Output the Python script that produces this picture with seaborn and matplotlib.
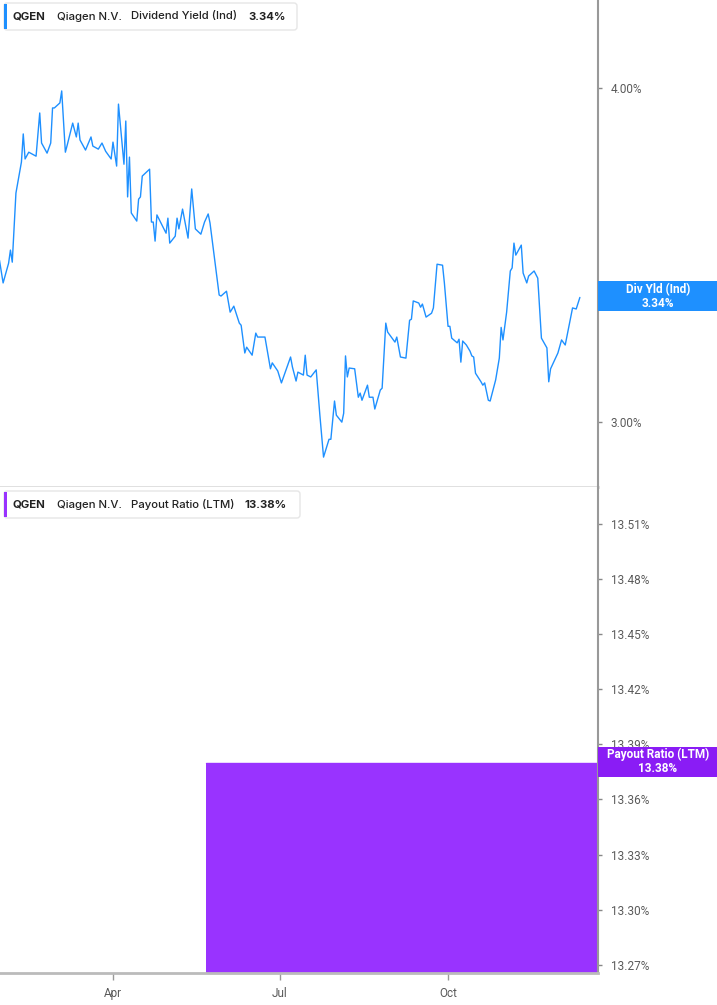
import pandas as pd
import matplotlib
matplotlib.use("Agg")
import matplotlib.pyplot as plt
import matplotlib.dates as mdates
import matplotlib.ticker as mticker
from matplotlib.patches import Rectangle, FancyBboxPatch
from matplotlib.transforms import IdentityTransform
import seaborn as sns

# dividend yield (Ind), %
dates = [
    "2025-01-29", "2025-01-31", "2025-02-03", "2025-02-04", "2025-02-05", "2025-02-07",
    "2025-02-10", "2025-02-11", "2025-02-12", "2025-02-14", "2025-02-18", "2025-02-20",
    "2025-02-21", "2025-02-24", "2025-02-26", "2025-02-27", "2025-02-28", "2025-03-03",
    "2025-03-04", "2025-03-06", "2025-03-07", "2025-03-10", "2025-03-12", "2025-03-13",
    "2025-03-14", "2025-03-17", "2025-03-20", "2025-03-21", "2025-03-24", "2025-03-26",
    "2025-03-28", "2025-03-31", "2025-04-01", "2025-04-03", "2025-04-04", "2025-04-07",
    "2025-04-08", "2025-04-09", "2025-04-10", "2025-04-11", "2025-04-14", "2025-04-15",
    "2025-04-16", "2025-04-17", "2025-04-21", "2025-04-22", "2025-04-23", "2025-04-24",
    "2025-04-25", "2025-04-30", "2025-05-01", "2025-05-02", "2025-05-05", "2025-05-06",
    "2025-05-07", "2025-05-09", "2025-05-12", "2025-05-14", "2025-05-16", "2025-05-19",
    "2025-05-21", "2025-05-23", "2025-05-24", "2025-05-29", "2025-05-30", "2025-06-02",
    "2025-06-04", "2025-06-06", "2025-06-09", "2025-06-10", "2025-06-12", "2025-06-13",
    "2025-06-16", "2025-06-18", "2025-06-19", "2025-06-23", "2025-06-26", "2025-06-27",
    "2025-06-30", "2025-07-02", "2025-07-07", "2025-07-08", "2025-07-10", "2025-07-11",
    "2025-07-14", "2025-07-15", "2025-07-16", "2025-07-18", "2025-07-21", "2025-07-23",
    "2025-07-25", "2025-07-28", "2025-07-29", "2025-07-31", "2025-08-01", "2025-08-04",
    "2025-08-05", "2025-08-06", "2025-08-07", "2025-08-08", "2025-08-11", "2025-08-13",
    "2025-08-14", "2025-08-15", "2025-08-18", "2025-08-19", "2025-08-21", "2025-08-22",
    "2025-08-25", "2025-08-26", "2025-08-28", "2025-08-29", "2025-09-02", "2025-09-03",
    "2025-09-05", "2025-09-08", "2025-09-10", "2025-09-11", "2025-09-12", "2025-09-15",
    "2025-09-16", "2025-09-17", "2025-09-19", "2025-09-22", "2025-09-23", "2025-09-25",
    "2025-09-28", "2025-09-29", "2025-10-01", "2025-10-02", "2025-10-03", "2025-10-06",
    "2025-10-07", "2025-10-08", "2025-10-09", "2025-10-11", "2025-10-13", "2025-10-14",
    "2025-10-15", "2025-10-16", "2025-10-19", "2025-10-20", "2025-10-21", "2025-10-23",
    "2025-10-24", "2025-10-27", "2025-10-29", "2025-10-30", "2025-10-31", "2025-11-02",
    "2025-11-04", "2025-11-05", "2025-11-06", "2025-11-07", "2025-11-10", "2025-11-11",
    "2025-11-13", "2025-11-14", "2025-11-17", "2025-11-19", "2025-11-21", "2025-11-24",
    "2025-11-25", "2025-11-26", "2025-11-30", "2025-12-02", "2025-12-04", "2025-12-08",
    "2025-12-10", "2025-12-12",
]
div_yield = [
    3.449, 3.382, 3.440, 3.479, 3.443, 3.654,
    3.753, 3.845, 3.763, 3.785, 3.772, 3.915,
    3.815, 3.782, 3.815, 3.932, 3.932, 3.949,
    3.990, 3.785, 3.808, 3.881, 3.835, 3.881,
    3.825, 3.792, 3.835, 3.805, 3.795, 3.815,
    3.788, 3.763, 3.818, 3.740, 3.945, 3.746,
    3.888, 3.642, 3.769, 3.592, 3.567, 3.635,
    3.642, 3.708, 3.730, 3.564, 3.564, 3.506,
    3.586, 3.530, 3.576, 3.500, 3.521, 3.576,
    3.543, 3.604, 3.515, 3.667, 3.543, 3.527,
    3.564, 3.589, 3.561, 3.347, 3.344, 3.358,
    3.298, 3.315, 3.267, 3.261, 3.184, 3.200,
    3.178, 3.239, 3.228, 3.228, 3.141, 3.157,
    3.135, 3.103, 3.173, 3.146, 3.108, 3.132,
    3.124, 3.178, 3.124, 3.119, 3.138, 3.018,
    2.911, 2.956, 2.956, 3.055, 3.018, 3.000,
    3.023, 3.176, 3.119, 3.143, 3.141, 3.065,
    3.076, 3.057, 3.097, 3.065, 3.065, 3.034,
    3.084, 3.089, 3.267, 3.242, 3.214, 3.228,
    3.173, 3.170, 3.275, 3.278, 3.330, 3.324,
    3.312, 3.321, 3.284, 3.295, 3.310, 3.437,
    3.434, 3.382, 3.258, 3.258, 3.225, 3.212,
    3.222, 3.159, 3.217, 3.206, 3.189, 3.176,
    3.173, 3.129, 3.106, 3.097, 3.103, 3.057,
    3.055, 3.111, 3.170, 3.255, 3.220, 3.298,
    3.417, 3.426, 3.500, 3.464, 3.494, 3.411,
    3.382, 3.402, 3.417, 3.396, 3.225, 3.198,
    3.106, 3.141, 3.184, 3.220, 3.206, 3.310,
    3.307, 3.340,
]

# payout ratio (LTM), %
payout_dates = ["2025-05-22", "2025-12-22"]
payout_ratio = [13.38, 13.38]

yield_ticks = [3.0, 4.0]
payout_ticks = [13.27, 13.30, 13.33, 13.36, 13.39, 13.42, 13.45, 13.48, 13.51]
month_ticks = ["2025-04-01", "2025-07-01", "2025-10-01"]
month_labels = ["Apr", "Jul", "Oct"]

BLUE = "#1E90FF"
PURPLE = "#9933FF"
PURPLE_TAG = "#8A1CF5"
W, H = 717, 1005


def style_axis(ax, ticks, fmt):
    ax.set_yticks(ticks)
    ax.yaxis.set_minor_locator(mticker.NullLocator())
    ax.yaxis.set_major_formatter(mticker.FuncFormatter(lambda v, p: fmt.format(v)))
    ax.yaxis.tick_right()
    ax.tick_params(axis="y", which="both", right=True, left=False, labelright=True,
                   labelleft=False, length=3, width=1, color="#888888",
                   labelcolor="#5a5a5a", labelsize=8.5, pad=6)
    for s in ["top", "left"]:
        ax.spines[s].set_visible(False)
    ax.spines["right"].set_color("#999999")
    ax.spines["right"].set_linewidth(1.5)
    ax.grid(False)


def header(fig, ytop, color, metric, value, value_x, width):
    # little legend box in the top left corner of each panel
    box = FancyBboxPatch((4, H - ytop - 27), width, 27, boxstyle="round,pad=0,rounding_size=3",
                         transform=IdentityTransform(), facecolor="white",
                         edgecolor="#e6e6e6", linewidth=1, zorder=5)
    fig.add_artist(box)
    fig.add_artist(Rectangle((4, H - ytop - 26), 3, 25, transform=IdentityTransform(),
                             facecolor=color, edgecolor="none", zorder=6))
    yc = 1 - (ytop + 13.5) / H
    kw = dict(va="center", ha="left", fontsize=8.2, color="#222222", zorder=7)
    fig.text(13 / W, yc, "QGEN", fontweight="bold", **kw)
    fig.text(57 / W, yc, "Qiagen N.V.", fontweight="medium", **kw)
    fig.text(131 / W, yc, metric, fontweight="medium", **kw)
    fig.text(value_x / W, yc, value, fontweight="bold", **kw)


def tag(fig, ax, when, value, color, lines):
    # coloured value tag sitting on the right axis, drawn over the tick labels
    px = ax.transData.transform((mdates.date2num(pd.Timestamp(when)), value))
    y0 = px[1] - 14
    fig.add_artist(Rectangle((598, y0), 119, 30, transform=IdentityTransform(),
                             facecolor=color, edgecolor="none", zorder=8))
    fig.text(658 / W, (y0 + 15) / H, lines, ha="center", va="center", color="white",
             fontsize=8.5, fontweight="bold", linespacing=1.1, zorder=9,
             family=["Roboto", "DejaVu Sans"])


def create_chart():
    sns.set_style("white")
    plt.rcParams["font.family"] = ["Inter", "Roboto", "DejaVu Sans"]

    df = pd.DataFrame({"date": pd.to_datetime(dates), "yield": div_yield})
    pr = pd.DataFrame({"date": pd.to_datetime(payout_dates), "ratio": payout_ratio})

    fig = plt.figure(figsize=(W / 100, H / 100), dpi=100)
    ax1 = fig.add_axes([0, 1 - 487 / H, 598 / W, 487 / H])
    ax2 = fig.add_axes([0, 1 - 973 / H, 598 / W, 486 / H], sharex=ax1)

    x_left = pd.Timestamp("2025-04-01") - pd.Timedelta(days=61.7)
    x_right = pd.Timestamp("2025-10-01") + pd.Timedelta(days=81.9)

    # top: dividend yield line on a log axis
    sns.lineplot(data=df, x="date", y="yield", ax=ax1, color=BLUE, linewidth=1.0)
    ax1.set_yscale("log")
    ax1.set_ylim(2.837, 4.315)
    ax1.set_xlim(x_left, x_right)
    style_axis(ax1, yield_ticks, "{:.2f}%")
    ax1.spines["bottom"].set_color("#dddddd")
    ax1.spines["bottom"].set_linewidth(2)
    ax1.tick_params(axis="x", bottom=False, labelbottom=False)
    ax1.set_xlabel("")
    ax1.set_ylabel("")

    # bottom: payout ratio area
    ax2.fill_between(pr["date"], pr["ratio"], 13.2656, color=PURPLE, linewidth=0)
    sns.lineplot(data=pr, x="date", y="ratio", ax=ax2, color=PURPLE, linewidth=1.0)
    ax2.set_ylim(13.2656, 13.530)
    style_axis(ax2, payout_ticks, "{:.2f}%")
    ax2.spines["bottom"].set_color("#bbbbbb")
    ax2.spines["bottom"].set_linewidth(2)
    ax2.set_xticks(pd.to_datetime(month_ticks))
    ax2.set_xticklabels(month_labels)
    ax2.tick_params(axis="x", bottom=True, length=5, width=1, color="#999999",
                    labelcolor="#5a5a5a", labelsize=8.5, pad=5)
    ax2.set_xlabel("")
    ax2.set_ylabel("")
    for lab in ax2.get_xticklabels() + ax1.get_yticklabels() + ax2.get_yticklabels():
        lab.set_fontfamily(["Roboto", "DejaVu Sans"])

    header(fig, 3, BLUE, "Dividend Yield (Ind)", "3.34%", 248, 293)
    header(fig, 491, PURPLE, "Payout Ratio (LTM)", "13.38%", 244, 296)
    tag(fig, ax1, dates[-1], div_yield[-1], BLUE, "Div Yld (Ind)\n3.34%")
    tag(fig, ax2, payout_dates[-1], payout_ratio[-1], PURPLE_TAG, "Payout Ratio (LTM)\n13.38%")

    fig.savefig("out.png", dpi=100, facecolor="white")


if __name__ == "__main__":
    create_chart()
